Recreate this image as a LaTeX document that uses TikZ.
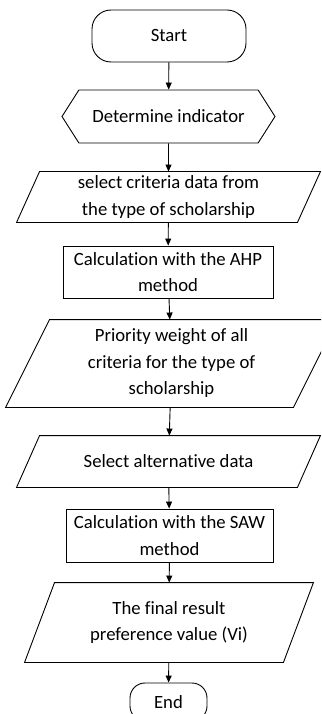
\documentclass[tikz,border=0pt]{standalone}
\usepackage{fontspec}
\setmainfont{Carlito}[Ligatures=NoCommon]
\usetikzlibrary{shapes.symbols,arrows.meta}

% slanted frame round a data node: #1 node, #2 half of the slant
\newcommand\ioframe[2]{%
  \draw[line width=0.9pt] ([xshift=-#2]#1.south west) -- ([xshift=#2]#1.north west)
    -- ([xshift=#2]#1.north east) -- ([xshift=-#2]#1.south east) -- cycle;}

\begin{document}
\begin{tikzpicture}[x=1pt, y=-1pt,
  box/.style={draw, line width=0.9pt, inner sep=0pt, align=center,
    font=\fontsize{18.7}{26.5}\selectfont},
  terminal/.style={box, rectangle, rounded corners=#1},
  prepbox/.style={box, signal, signal to=west and east, signal pointer angle=115},
  iobox/.style={box, draw=none, rectangle},
  procbox/.style={box, rectangle},
  flow/.style={-{Triangle[length=7pt,width=6pt]}, line width=0.9pt}]

\useasboundingbox (0,0) rectangle (321,714);
\clip (0,0) rectangle (321,714);

\node[terminal=19pt, minimum width=154pt, minimum height=52pt] (start) at (169,36) {Start};
\node[prepbox, minimum width=213pt, minimum height=53pt] (indic) at (168.5,116.5) {Determine indicator};
\node[iobox, minimum width=280pt, minimum height=50pt] (crit) at (168.5,197)
  {select criteria data from\\the type of scholarship};
\node[procbox, minimum width=210pt, minimum height=52pt] (ahp) at (168,272)
  {Calculation with the AHP\\method};
\node[iobox, minimum width=287pt, minimum height=87pt] (weight) at (171.5,363.5)
  {Priority weight of all\\criteria for the type of\\scholarship};
\node[iobox, minimum width=280pt, minimum height=51pt] (alt) at (168.5,461.5)
  {Select alternative data};
\node[procbox, minimum width=207pt, minimum height=53pt] (saw) at (169.5,535.5)
  {Calculation with the SAW\\method};
\node[iobox, minimum width=258pt, minimum height=79pt] (result) at (169,622.5)
  {The final result\\preference value (Vi)};
\node[terminal=15pt, minimum width=77pt, minimum height=38pt] (stop) at (168.5,702) {End};

\ioframe{crit}{11.5pt}
\ioframe{weight}{22pt}
\ioframe{alt}{11.5pt}
\ioframe{result}{15pt}

% connectors
\draw[flow] (start) -- (indic);
\draw[flow] (indic) -- (crit);
\draw[flow] (crit) -- (ahp);
\draw[flow] (ahp) -- (weight);
\draw[flow] (weight) -- (alt);
\draw[flow] (alt) -- (saw);
\draw[flow] (saw) -- (result);
\draw[flow] (result) -- (stop);
\end{tikzpicture}
\end{document}
